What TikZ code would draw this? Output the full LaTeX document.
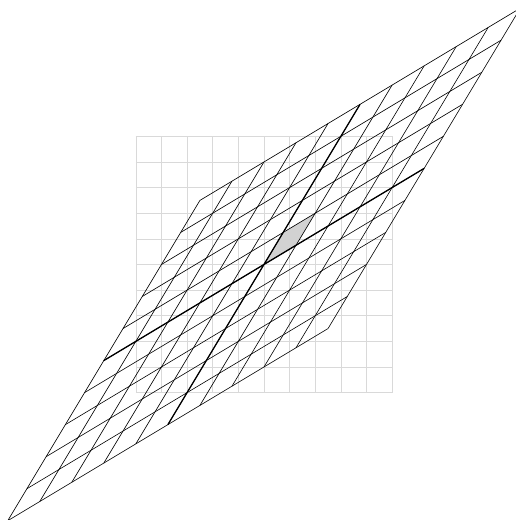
\documentclass[tikz,border=0pt]{standalone}
\usepackage{tikz}

\begin{document}
\begin{tikzpicture}[
    oldgrid/.style={gray!30, line width=0.7pt},
    newgrid/.style={black, line width=0.7pt},
    axisline/.style={black, line width=1.4pt},
    unitcell/.style={fill=gray!35}
]
\useasboundingbox (-10.30,-9.97) rectangle (9.83,10.32);
% plain grid
\draw[oldgrid] (-5,-5) grid (5,5);
% the same grid after the map
\begin{scope}[cm={1.25,0.75,0.75,1.25,(0,0)}]
\fill[unitcell] (0,0) rectangle (1,1);
\foreach \k in {-5,...,5} {
    \draw[newgrid] (\k,-5) -- (\k,5);
    \draw[newgrid] (-5,\k) -- (5,\k);
}
\draw[axisline] (-5,0) -- (5,0);
\draw[axisline] (0,-5) -- (0,5);
\end{scope}
\end{tikzpicture}
\end{document}
